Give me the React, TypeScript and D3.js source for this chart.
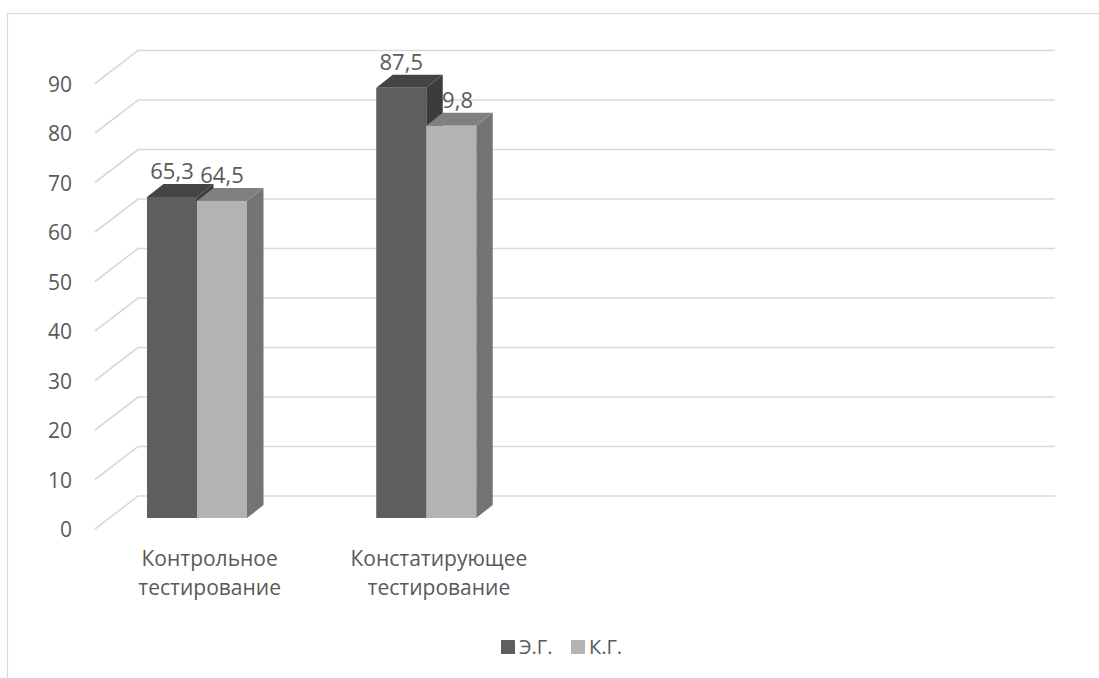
import React from "react";
import * as d3 from "d3";

const categories = ["Контрольное тестирование", "Констатирующее тестирование", "", ""];
const seriesNames = ["Э.Г.", "К.Г."];
const egValues = [65.3, 87.5];
const kgValues = [64.5, 79.8];
const yTicks = [0, 10, 20, 30, 40, 50, 60, 70, 80, 90];

const W = 1099;
const H = 678;
const FONT = "'Open Sans', 'Noto Sans', sans-serif";
const TEXT = "#595959";
const GRID = "#d9d9d9";

const colors = [
  { front: "#5e5e5e", top: "#444444", side: "#3c3c3c" },
  { front: "#b3b3b3", top: "#808080", side: "#747474" },
];

export default function App() {
  // back wall
  const yBack = d3.scaleLinear().domain([0, 90]).range([496, 50.5]);
  // plane of bar fronts
  const yFront = d3.scaleLinear().domain([0, 90]).range([518, 518 - 90 * 4.916]);
  const xFront = d3.scaleBand().domain(categories.map((c, i) => String(i))).range([95, 1012]);
  const wallDx = 43, wallDy = -33;
  const depthDx = 16.5, depthDy = -13;
  const barW = 50;
  const barOffset = 52;

  const series = [egValues, kgValues];

  const bars: any[] = [];
  const labels: any[] = [];
  categories.forEach((cat, ci) => {
    series.forEach((vals, si) => {
      const v = vals[ci];
      if (v === undefined) return;
      const x0 = (xFront(String(ci)) as number) + barOffset + si * barW;
      const x1 = x0 + barW;
      const yb = yFront(0);
      const yt = yFront(v);
      const c = colors[si];
      bars.push(
        <g key={`b${ci}-${si}`}>
          <polygon
            points={`${x1},${yb} ${x1 + depthDx},${yb + depthDy} ${x1 + depthDx},${yt + depthDy} ${x1},${yt}`}
            fill={c.side}
          />
          <polygon
            points={`${x0},${yt} ${x0 + depthDx},${yt + depthDy} ${x1 + depthDx},${yt + depthDy} ${x1},${yt}`}
            fill={c.top}
          />
          <rect x={x0} y={yt} width={barW} height={yb - yt} fill={c.front} />
        </g>
      );
      labels.push(
        <text
          key={`l${ci}-${si}`}
          x={(x0 + x1) / 2}
          y={yt - 18}
          textAnchor="middle"
          fontSize={22}
          fill={TEXT}
          fontFamily={FONT}
        >
          {String(v).replace(".", ",")}
        </text>
      );
    });
  });

  const legendItems = [
    { name: seriesNames[0], x: 501, color: colors[0].front },
    { name: seriesNames[1], x: 571, color: colors[1].front },
  ];

  return (
    <svg
      width={W}
      height={H}
      style={{ position: "absolute", left: 0, top: 0, background: "#fff" }}
    >
      <rect x={0} y={0} width={W} height={H} fill="#fff" />
      <rect x={7.5} y={13.5} width={1300} height={900} fill="none" stroke={GRID} strokeWidth={1.2} />
      {yTicks.map((t) => {
        const y = yBack(t);
        return (
          <g key={`g${t}`}>
            <polyline
              points={`${95},${y - wallDy} ${95 + wallDx},${y} ${1055},${y}`}
              fill="none"
              stroke={GRID}
              strokeWidth={1.6}
            />
            <text
              x={72}
              y={y - wallDy + 8}
              textAnchor="end"
              fontSize={21}
              fill={TEXT}
              fontFamily={FONT}
            >
              {t}
            </text>
          </g>
        );
      })}
      {labels}
      {bars}
      {categories.map((cat, ci) => {
        if (!cat) return null;
        const cx = (xFront(String(ci)) as number) + xFront.bandwidth() / 2;
        const lines = cat.split(" ");
        return (
          <g key={`c${ci}`}>
            {lines.map((ln, li) => (
              <text
                key={li}
                x={cx}
                y={566 + li * 29}
                textAnchor="middle"
                fontSize={21}
                fill={TEXT}
                fontFamily={FONT}
              >
                {ln}
              </text>
            ))}
          </g>
        );
      })}
      {legendItems.map((it) => (
        <g key={it.name}>
          <rect x={it.x} y={640} width={14} height={14} fill={it.color} />
          <text x={it.x + 18} y={654} fontSize={20} fill={TEXT} fontFamily={FONT}>
            {it.name}
          </text>
        </g>
      ))}
    </svg>
  );
}
